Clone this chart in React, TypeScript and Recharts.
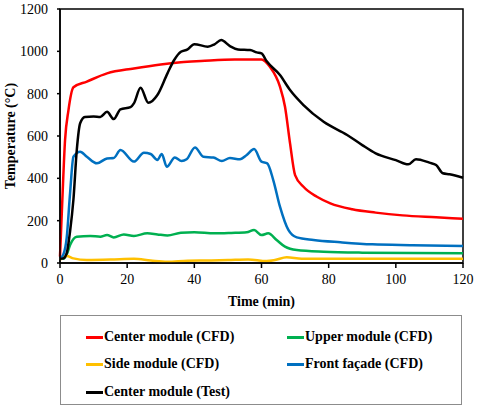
import { LineChart, Line, XAxis, YAxis, ReferenceArea } from "recharts";

const xTicks = [0, 20, 40, 60, 80, 100, 120];
const yTicks = [0, 200, 400, 600, 800, 1000, 1200];

const centerCfdTime = [0, 0.7, 1.5, 2.5, 4, 8, 14, 22, 30, 36, 42, 52, 60, 62.5, 65.5, 67, 68.5, 70, 72.5, 76.5, 80.5, 87, 94, 102, 112, 120];
const centerCfdTemp = [30, 300, 580, 720, 830, 857, 896, 919, 938, 948, 954, 962, 962, 927, 833, 738, 565, 415, 360, 313, 282, 254, 238, 225, 216, 209];

const upperCfdTime = [0, 1, 2, 3, 5, 9, 12, 14, 16, 19, 22, 26, 29, 32, 36, 40, 46, 51, 55.6, 57.8, 60, 62, 64.5, 67, 70.5, 78.5, 90, 120];
const upperCfdTemp = [20, 20, 40, 85, 124, 128, 124, 132, 121, 135, 128, 140, 135, 130, 143, 145, 140, 142, 145, 156, 132, 140, 109, 77, 61, 53, 49, 46];

const sideCfdTime = [0, 2, 4, 8, 15, 22, 27, 32, 38, 45, 50, 56, 61.5, 64, 67.5, 72, 80, 120];
const sideCfdTemp = [15, 33, 22, 14, 16, 20, 12, 6, 11, 12, 14, 17, 9, 14, 27, 20, 20, 20];

const frontCfdTime = [0, 1, 2, 3, 4, 6, 8, 11, 14, 16, 18, 22, 25, 27, 29, 30.3, 31.8, 34.2, 36.2, 37.7, 40.2, 42.7, 45.7, 48.2, 50.6, 53.6, 55.6, 57.8, 60, 61.7, 63.5, 65.5, 68, 70.5, 75.5, 83.5, 93, 105, 120];
const frontCfdTemp = [20, 40, 120, 330, 502, 526, 502, 471, 494, 496, 534, 479, 521, 515, 487, 515, 455, 499, 482, 490, 546, 502, 498, 482, 496, 490, 510, 538, 479, 471, 392, 266, 156, 121, 109, 98, 88, 84, 80];

const centerTestTime = [0, 1, 2, 3, 4, 5, 6, 7.4, 10, 12, 14, 16, 18, 21, 22, 24, 26.3, 29, 32, 34, 36, 38, 40, 44, 46, 48, 50.6, 53, 56.6, 58.6, 60, 61.5, 65.5, 68.5, 72.5, 78.5, 85.5, 90, 94, 100, 103.7, 106, 110, 112, 114, 116, 120];
const centerTestTemp = [20, 22, 47, 150, 300, 534, 660, 690, 692, 690, 714, 680, 726, 736, 754, 828, 757, 794, 896, 959, 998, 1009, 1034, 1022, 1033, 1053, 1025, 1009, 1006, 995, 990, 954, 888, 817, 746, 667, 605, 557, 518, 486, 466, 490, 474, 463, 424, 419, 403];

const zip = (t: number[], v: number[]) => t.map((x, i) => ({ t: x, v: v[i] }));

const series = [
  { name: "Center module (CFD)", color: "#FF0000", data: zip(centerCfdTime, centerCfdTemp) },
  { name: "Upper module (CFD)", color: "#00B050", data: zip(upperCfdTime, upperCfdTemp) },
  { name: "Side module (CFD)", color: "#FFC000", data: zip(sideCfdTime, sideCfdTemp) },
  { name: "Front façade (CFD)", color: "#0070C0", data: zip(frontCfdTime, frontCfdTemp) },
  { name: "Center module (Test)", color: "#000000", data: zip(centerTestTime, centerTestTemp) },
];

const font = "'Liberation Serif', 'Times New Roman', serif";
const tickStyle = { fontSize: 14, fill: "#000", fontFamily: font };

// legend slots: [left of swatch, row center]
const legendPos = [
  [86, 337],
  [287, 337],
  [86, 364],
  [287, 364],
  [86, 392],
];

export default function App() {
  return (
    <div style={{ position: "absolute", left: 0, top: 0, width: 477, height: 410, background: "#fff" }}>
      <LineChart width={477} height={410} margin={{ top: 9, right: 14, bottom: 97, left: 0 }}>
        <XAxis
          dataKey="t"
          type="number"
          domain={[0, 120]}
          ticks={xTicks}
          height={50}
          stroke="#000"
          strokeWidth={1.5}
          tickSize={5}
          tickMargin={6}
          tick={tickStyle}
          allowDuplicatedCategory={false}
          label={{
            value: "Time (min)",
            position: "insideBottom",
            offset: 7,
            style: { fontSize: 14, fontWeight: "bold", fill: "#000", fontFamily: font },
          }}
        />
        <YAxis
          type="number"
          domain={[0, 1200]}
          ticks={yTicks}
          width={60}
          stroke="#000"
          strokeWidth={1.5}
          tickSize={3}
          tickMargin={9}
          tick={tickStyle}
          label={{
            value: "Temperature (°C)",
            angle: -90,
            position: "insideLeft",
            offset: 10,
            style: { fontSize: 14, fontWeight: "bold", fill: "#000", fontFamily: font, textAnchor: "middle" },
          }}
        />
        <ReferenceArea x1={0} x2={120} y1={0} y2={1200} fill="none" stroke="#000" strokeWidth={1.5} />
        {series.map((s) => (
          <Line
            key={s.name}
            data={s.data}
            dataKey="v"
            name={s.name}
            type="monotone"
            stroke={s.color}
            strokeWidth={2.5}
            dot={false}
            isAnimationActive={false}
          />
        ))}
      </LineChart>
      <div
        style={{
          position: "absolute",
          left: 60,
          top: 315,
          width: 402,
          height: 90,
          boxSizing: "border-box",
          border: "1px solid #8c8c8c",
        }}
      />
      {series.map((s, i) => (
        <div
          key={s.name}
          style={{
            position: "absolute",
            left: legendPos[i][0],
            top: legendPos[i][1] - 9,
            height: 18,
            display: "flex",
            alignItems: "center",
            fontFamily: font,
            fontWeight: "bold",
            fontSize: 14,
            color: "#000",
            whiteSpace: "nowrap",
          }}
        >
          <span style={{ display: "inline-block", width: 17, height: 3, background: s.color, marginRight: 1 }} />
          {s.name}
        </div>
      ))}
    </div>
  );
}
